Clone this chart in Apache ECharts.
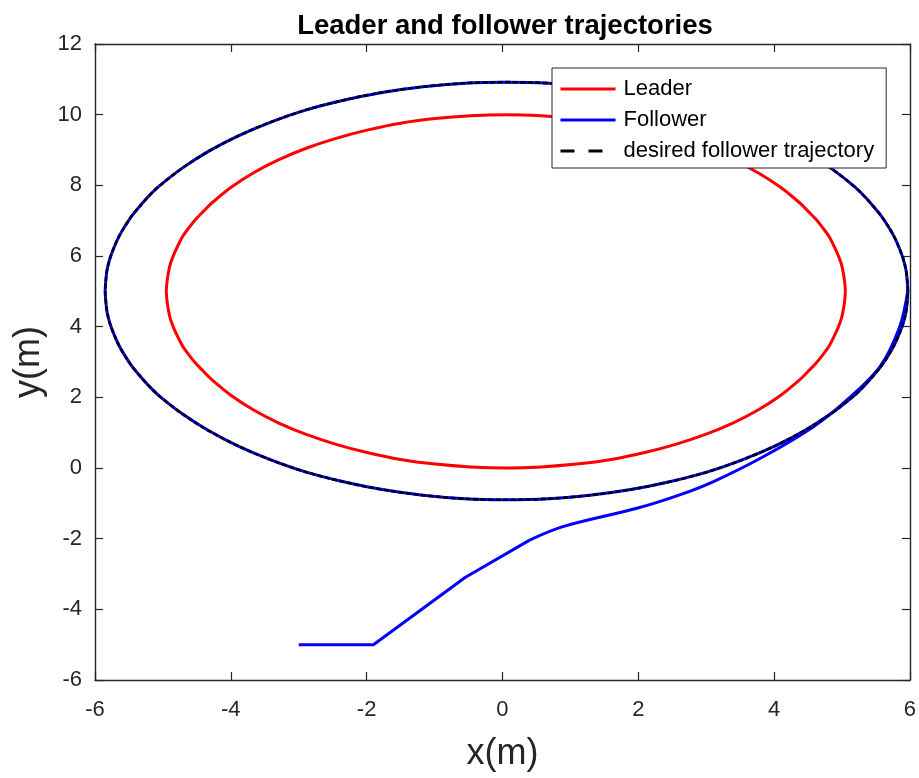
<!DOCTYPE html>
<html>
<head>
<meta charset="utf-8">
<script src="https://cdn.jsdelivr.net/npm/echarts@6/dist/echarts.min.js"></script>
<style>
  html, body { margin: 0; padding: 0; background: #fff; }
  #chart { width: 919px; height: 778px; }
</style>
</head>
<body>
<div id="chart"></div>
<script>
// Leader path: closed loop around (0, 5), points [x, y] in metres
const leaderPath = [
  [5.05, 5.00], [5.04, 5.26], [5.02, 5.52], [4.99, 5.78], [4.94, 6.04], [4.88, 6.29],
  [4.81, 6.55], [4.72, 6.79], [4.62, 7.03], [4.50, 7.27], [4.38, 7.50],
  [4.10, 7.94], [3.77, 8.35], [3.40, 8.72], [2.99, 9.05], [2.55, 9.33], [2.08, 9.57],
  [1.60, 9.76], [1.09, 9.89], [0.57, 9.97], [0.05, 10.00],
  [-0.47, 9.97], [-0.99, 9.89], [-1.50, 9.76], [-1.98, 9.57], [-2.45, 9.33], [-2.89, 9.05],
  [-3.30, 8.72], [-3.67, 8.35], [-4.00, 7.94], [-4.28, 7.50],
  [-4.40, 7.27], [-4.52, 7.03], [-4.62, 6.79], [-4.71, 6.55], [-4.78, 6.29], [-4.84, 6.04],
  [-4.89, 5.78], [-4.92, 5.52], [-4.94, 5.26], [-4.95, 5.00],
  [-4.94, 4.74], [-4.92, 4.48], [-4.89, 4.22], [-4.84, 3.96], [-4.78, 3.71], [-4.71, 3.45],
  [-4.62, 3.21], [-4.52, 2.97], [-4.40, 2.73], [-4.28, 2.50],
  [-4.00, 2.06], [-3.67, 1.65], [-3.30, 1.28], [-2.89, 0.95], [-2.45, 0.67], [-1.98, 0.43],
  [-1.50, 0.24], [-0.99, 0.11], [-0.47, 0.03], [0.05, 0.00],
  [0.57, 0.03], [1.09, 0.11], [1.60, 0.24], [2.08, 0.43], [2.55, 0.67], [2.99, 0.95],
  [3.40, 1.28], [3.77, 1.65], [4.10, 2.06], [4.38, 2.50],
  [4.50, 2.73], [4.62, 2.97], [4.72, 3.21], [4.81, 3.45], [4.88, 3.71], [4.94, 3.96],
  [4.99, 4.22], [5.02, 4.48], [5.04, 4.74], [5.05, 5.00]
];

// Desired follower path: outer loop
const desiredPath = [
  [5.97, 5.01], [5.96, 5.32], [5.94, 5.63], [5.90, 5.93], [5.84, 6.24], [5.77, 6.54],
  [5.68, 6.84], [5.58, 7.13], [5.46, 7.41], [5.33, 7.69], [5.18, 7.97],
  [4.84, 8.48], [4.45, 8.96], [4.01, 9.40], [3.53, 9.79], [3.02, 10.13], [2.46, 10.41],
  [1.89, 10.63], [1.29, 10.79], [0.68, 10.89], [0.06, 10.92],
  [-0.56, 10.89], [-1.17, 10.79], [-1.77, 10.63], [-2.34, 10.41], [-2.90, 10.13], [-3.41, 9.79],
  [-3.89, 9.40], [-4.33, 8.96], [-4.72, 8.48], [-5.06, 7.97],
  [-5.21, 7.69], [-5.34, 7.41], [-5.46, 7.13], [-5.56, 6.84], [-5.65, 6.54], [-5.72, 6.24],
  [-5.78, 5.93], [-5.82, 5.63], [-5.84, 5.32], [-5.85, 5.01],
  [-5.84, 4.70], [-5.82, 4.39], [-5.78, 4.09], [-5.72, 3.78], [-5.65, 3.48], [-5.56, 3.18],
  [-5.46, 2.89], [-5.34, 2.61], [-5.21, 2.33], [-5.06, 2.05],
  [-4.72, 1.54], [-4.33, 1.06], [-3.89, 0.62], [-3.41, 0.23], [-2.90, -0.11], [-2.34, -0.39],
  [-1.77, -0.61], [-1.17, -0.77], [-0.56, -0.87], [0.06, -0.90],
  [0.68, -0.87], [1.29, -0.77], [1.89, -0.61], [2.46, -0.39], [3.02, -0.11], [3.53, 0.23],
  [4.01, 0.62], [4.45, 1.06], [4.84, 1.54], [5.18, 2.05],
  [5.33, 2.33], [5.46, 2.61], [5.58, 2.89], [5.68, 3.18], [5.77, 3.48], [5.84, 3.78],
  [5.90, 4.09], [5.94, 4.39], [5.96, 4.70], [5.97, 5.01]
];

// Follower: straight start-up legs
const followerStart = [
  [-3.00, -5.00], [-1.90, -5.00], [-0.55, -3.10], [0.40, -2.04]
];

// Follower: converging arc up to the right side of the outer loop
const followerApproach = [
  [0.40, -2.04], [0.89, -1.66], [1.98, -1.14], [2.61, -0.76], [3.10, -0.39],
  [3.84, 0.32], [4.58, 1.17], [5.07, 1.92], [5.56, 2.87], [5.85, 4.00], [5.97, 5.01]
];

// Follower: after joining, it runs one full lap on the desired loop
const followerLap = desiredPath;

const xTicks = { min: -6, max: 6, step: 2 };
const yTicks = { min: -6, max: 12, step: 2 };

const FONT = '"Liberation Sans", Arial, Helvetica, sans-serif';
const AX = '#262626';
const RED = '#ff0000';
const BLUE = '#0000ff';

const chart = echarts.init(document.getElementById('chart'), null, { renderer: 'canvas' });

// plain boxed axis with inward ticks (also used for the top/right frame)
function boxAxis(extra) {
  return Object.assign({
    type: 'value',
    axisLine: { show: true, onZero: false, lineStyle: { color: AX, width: 1.4 } },
    axisTick: { show: true, inside: true, length: 8, lineStyle: { color: AX, width: 1.2 } },
    splitLine: { show: false },
    axisLabel: { show: false }
  }, extra);
}

function pathSeries(name, data, color, width, extra) {
  return Object.assign({
    name: name, type: 'line', data: data, symbol: 'none', showSymbol: false,
    smooth: 0.33, smoothMonotone: 'none', clip: true,
    lineStyle: { color: color, width: width, cap: 'butt', join: 'round' },
    itemStyle: { color: color }
  }, extra);
}

chart.setOption({
  animation: false,
  backgroundColor: '#fff',
  title: {
    text: 'Leader and follower trajectories',
    left: 500, top: 7, textAlign: 'center',
    textStyle: { fontFamily: FONT, fontSize: 27.5, fontWeight: 'bold', color: '#000' }
  },
  grid: { left: 95, right: 9, top: 44, bottom: 98, containLabel: false },
  xAxis: [
    boxAxis({
      min: xTicks.min, max: xTicks.max, interval: xTicks.step, position: 'bottom',
      name: 'x(m)', nameLocation: 'middle', nameGap: 56,
      nameTextStyle: { fontFamily: FONT, fontSize: 36, color: AX },
      axisLabel: { show: true, margin: 19, fontFamily: FONT, fontSize: 22, color: AX }
    }),
    boxAxis({ min: xTicks.min, max: xTicks.max, interval: xTicks.step, position: 'top' })
  ],
  yAxis: [
    boxAxis({
      min: yTicks.min, max: yTicks.max, interval: yTicks.step, position: 'left',
      name: 'y(m)', nameLocation: 'middle', nameGap: 47, nameRotate: 90,
      nameTextStyle: { fontFamily: FONT, fontSize: 36, color: AX },
      axisLabel: { show: true, margin: 13, fontFamily: FONT, fontSize: 22, color: AX }
    }),
    boxAxis({ min: yTicks.min, max: yTicks.max, interval: yTicks.step, position: 'right' })
  ],
  legend: {
    orient: 'vertical',
    left: 552, top: 68, z: 20,
    padding: [9, 12, 5, 7],
    itemWidth: 55, itemHeight: 14, itemGap: 7,
    backgroundColor: '#fff',
    borderColor: '#262626', borderWidth: 1, borderRadius: 0,
    itemStyle: { color: 'rgba(0,0,0,0)', borderWidth: 0, opacity: 0 },
    textStyle: { fontFamily: FONT, fontSize: 22, color: '#000', lineHeight: 24, padding: [0, 0, 0, 3] },
    data: [
      { name: 'Leader', lineStyle: { width: 3, color: RED } },
      { name: 'Follower', lineStyle: { width: 3, color: BLUE } },
      { name: 'desired follower trajectory', lineStyle: { type: [14, 14], width: 3, color: '#000' } }
    ]
  },
  series: [
    pathSeries('Leader', leaderPath, RED, 3, { z: 2 }),
    pathSeries('Follower', followerStart, BLUE, 3, { z: 3, smooth: false }),
    pathSeries('Follower', followerApproach, BLUE, 3, { z: 3 }),
    pathSeries('Follower', followerLap, BLUE, 3, { z: 3 }),
    pathSeries('desired follower trajectory', desiredPath, '#000', 2.6, {
      z: 4, lineStyle: { color: '#000', width: 2.6, type: [5, 2.5], cap: 'butt' }
    })
  ]
});
</script>
</body>
</html>
